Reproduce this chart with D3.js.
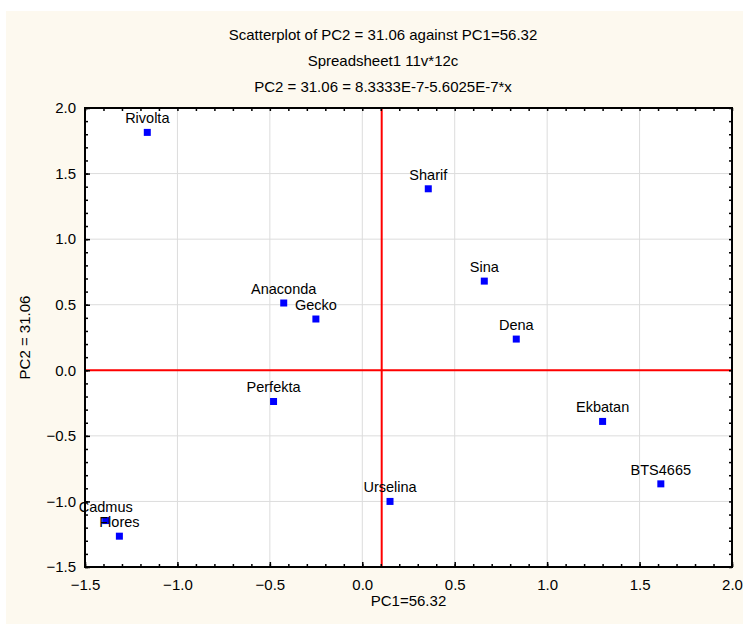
<!DOCTYPE html>
<html>
<head>
<meta charset="utf-8">
<script src="https://cdn.jsdelivr.net/npm/d3@7"></script>
<style>
  body { margin: 0; background: #fff; }
  text { font-family: "Liberation Sans", Arial, sans-serif; fill: #000; }
</style>
</head>
<body>
<svg id="chart" width="743" height="624"></svg>
<script>
// cultivar names and their PC scores
const names = ['Rivolta', 'Sharif', 'Sina', 'Anaconda', 'Gecko', 'Dena', 'Perfekta', 'Ekbatan', 'BTS4665', 'Urselina', 'Cadmus', 'Flores'];
const pc1 = [-1.163, 0.357, 0.66, -0.425, -0.251, 0.833, -0.48, 1.30, 1.615, 0.15, -1.388, -1.314];
const pc2 = [1.814, 1.384, 0.68, 0.513, 0.391, 0.238, -0.238, -0.39, -0.866, -1.0, -1.146, -1.265];
const xTicks = [-1.5, -1.0, -0.5, 0.0, 0.5, 1.0, 1.5, 2.0];
const yTicks = [-1.5, -1.0, -0.5, 0.0, 0.5, 1.0, 1.5, 2.0];
const refX = 0.105, refY = 0;
const titles = ['Scatterplot of PC2 = 31.06 against PC1=56.32', 'Spreadsheet1 11v*12c', 'PC2 = 31.06 = 8.3333E-7-5.6025E-7*x'];

const svg = d3.select('#chart');
const box = { left: 85, right: 732, top: 108, bottom: 567 };

const x = d3.scaleLinear().domain([-1.5, 2.0]).range([box.left, box.right]);
const y = d3.scaleLinear().domain([-1.5, 2.0]).range([box.bottom, box.top]);

// cream background
svg.append('rect').attr('x', 6).attr('y', 11).attr('width', 737).attr('height', 613).attr('fill', '#fdf9ef');
svg.append('rect').attr('x', box.left).attr('y', box.top)
  .attr('width', box.right - box.left).attr('height', box.bottom - box.top).attr('fill', '#fff');

// titles
svg.selectAll('.title').data(titles).join('text')
  .attr('x', 383).attr('y', (d, i) => 40 + i * 26)
  .attr('text-anchor', 'middle').style('font-size', '15px')
  .text(d => d);

// grid
svg.append('g').selectAll('line').data(xTicks.slice(1, -1)).join('line')
  .attr('x1', d => x(d)).attr('x2', d => x(d)).attr('y1', box.top).attr('y2', box.bottom)
  .attr('stroke', '#dcdcdc').attr('stroke-width', 1);
svg.append('g').selectAll('line').data(yTicks.slice(1, -1)).join('line')
  .attr('y1', d => y(d)).attr('y2', d => y(d)).attr('x1', box.left).attr('x2', box.right)
  .attr('stroke', '#dcdcdc').attr('stroke-width', 1);

// red reference lines
svg.append('line').attr('x1', x(refX)).attr('x2', x(refX)).attr('y1', box.top).attr('y2', box.bottom)
  .attr('stroke', '#f00').attr('stroke-width', 2);
svg.append('line').attr('y1', y(refY)).attr('y2', y(refY)).attr('x1', box.left).attr('x2', box.right)
  .attr('stroke', '#f00').attr('stroke-width', 2);

// axes: major ticks with labels, minor ticks inside on all four sides
const minor = d3.range(-15, 21).map(v => v / 10);
const fmt = d3.format('.1f');

svg.append('g').attr('transform', `translate(0,${box.bottom})`)
  .call(d3.axisBottom(x).tickValues(minor).tickSize(-3).tickFormat(''))
  .call(g => g.select('.domain').remove());
svg.append('g').attr('transform', `translate(0,${box.bottom})`)
  .call(d3.axisBottom(x).tickValues(xTicks).tickSizeInner(-5).tickSizeOuter(0).tickPadding(12).tickFormat(fmt))
  .call(g => g.select('.domain').remove())
  .call(g => g.selectAll('text').style('font-size', '15px').attr('font-family', null));
svg.append('g').attr('transform', `translate(0,${box.top})`)
  .call(d3.axisTop(x).tickValues(minor).tickSize(-3).tickFormat(''))
  .call(g => g.select('.domain').remove());

svg.append('g').attr('transform', `translate(${box.left},0)`)
  .call(d3.axisLeft(y).tickValues(minor).tickSize(-3).tickFormat(''))
  .call(g => g.select('.domain').remove());
svg.append('g').attr('transform', `translate(${box.left},0)`)
  .call(d3.axisLeft(y).tickValues(yTicks).tickSizeInner(-5).tickSizeOuter(0).tickPadding(9).tickFormat(fmt))
  .call(g => g.select('.domain').remove())
  .call(g => g.selectAll('text').style('font-size', '15px').attr('font-family', null));
svg.append('g').attr('transform', `translate(${box.right},0)`)
  .call(d3.axisRight(y).tickValues(minor).tickSize(-3).tickFormat(''))
  .call(g => g.select('.domain').remove());

svg.selectAll('.tick line').attr('stroke', '#000').attr('stroke-width', 1.5);

// frame
svg.append('rect').attr('x', box.left).attr('y', box.top)
  .attr('width', box.right - box.left).attr('height', box.bottom - box.top)
  .attr('fill', 'none').attr('stroke', '#000').attr('stroke-width', 2);

// axis titles
svg.append('text').attr('x', (box.left + box.right) / 2).attr('y', 606)
  .attr('text-anchor', 'middle').style('font-size', '15px').text('PC1=56.32');
svg.append('text').attr('transform', `translate(30,${(box.top + box.bottom) / 2}) rotate(-90)`)
  .attr('text-anchor', 'middle').style('font-size', '15px').text('PC2 = 31.06');

// points and labels
const pts = names.map((n, i) => ({ name: n, a: pc1[i], b: pc2[i] }));
svg.append('g').selectAll('rect').data(pts).join('rect')
  .attr('x', d => x(d.a) - 3.5).attr('y', d => y(d.b) - 3.5)
  .attr('width', 7).attr('height', 7).attr('fill', '#0000ff');
svg.append('g').selectAll('text').data(pts).join('text')
  .attr('x', d => x(d.a)).attr('y', d => y(d.b) - 9)
  .attr('text-anchor', 'middle').style('font-size', '14.5px')
  .text(d => d.name);
</script>
</body>
</html>
